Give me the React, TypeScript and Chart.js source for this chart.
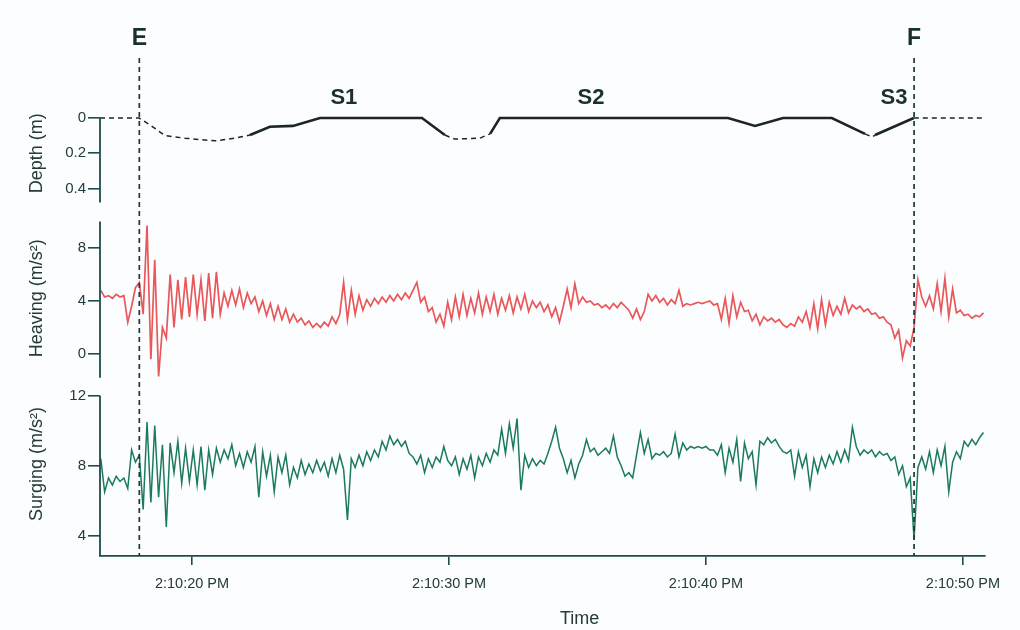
import React, { useEffect, useRef } from "react";
import { Chart, registerables } from "chart.js";

Chart.register(...registerables);

// Sampling of the accelerometer traces (seconds after 2:10:00 PM)
const T0 = 16.45;
const DT = 0.15;

// Heaving acceleration (m/s²)
const heaving = [
  4.8, 4.3, 4.4, 4.2, 4.5, 4.3, 4.4, 2.4, 3.6, 5.0,
  5.4, 3.0, 9.7, -0.4, 7.1, -1.7, 2.0, 1.2, 6.0, 2.0,
  5.6, 2.6, 5.8, 2.8, 6.0, 3.0, 5.6, 2.5, 6.1, 2.7,
  6.2, 3.0, 4.6, 3.6, 4.8, 3.7, 4.9, 3.5, 4.6, 3.8,
  4.3, 3.2, 4.0, 2.9, 3.8, 2.6, 3.6, 2.6, 3.4, 2.4,
  3.0, 2.4, 2.7, 2.2, 2.5, 2.0, 2.3, 2.0, 2.4, 2.1,
  2.8, 2.3, 3.0, 5.4, 2.6, 4.8, 3.0, 4.4, 3.3, 4.1,
  3.6, 4.2, 3.8, 4.3, 3.9, 4.4, 4.0, 4.5, 4.1, 4.6,
  4.2, 4.8, 5.4, 3.9, 4.3, 3.2, 3.5, 2.4, 3.0, 2.1,
  3.9, 2.6, 4.3, 2.8, 4.5, 2.9, 4.2, 3.1, 4.6, 3.0,
  4.3, 3.2, 4.5, 3.0, 4.2, 3.3, 4.4, 3.1, 4.3, 3.4,
  4.5, 3.2, 4.0, 3.5, 3.9, 3.2, 3.7, 2.8, 3.5, 2.4,
  3.6, 4.9, 3.5, 5.3, 3.8, 4.3, 3.9, 4.0, 3.7, 3.8,
  3.5, 3.7, 3.4, 3.8, 3.5, 3.9, 3.6, 3.3, 2.7, 3.4,
  2.6, 3.2, 4.5, 4.0, 4.4, 3.9, 4.2, 3.7, 4.1, 3.8,
  4.8, 3.6, 3.8, 3.7, 3.8, 3.9, 3.8, 3.9, 4.0, 3.7,
  3.8, 2.6, 4.2, 2.3, 4.4, 2.8, 3.9, 3.2, 3.3, 2.5,
  3.0, 2.2, 2.8, 2.5, 2.7, 2.4, 2.6, 2.2, 2.0, 2.3,
  2.1, 2.8, 2.4, 3.2, 2.0, 3.8, 1.9, 4.1, 2.2, 3.9,
  2.9, 3.6, 3.0, 4.2, 3.1, 3.7, 3.4, 3.6, 3.2, 3.4,
  3.0, 3.1, 2.7, 2.8, 2.4, 2.2, 1.2, 1.8, -0.3, 1.0,
  0.6, 2.0, 5.6, 4.3, 3.6, 4.4, 3.4, 5.3, 3.2, 5.7,
  2.8, 4.9, 3.1, 3.3, 2.9, 3.0, 2.7, 2.9, 2.8, 3.1,
];

// Surging acceleration (m/s²)
const surging = [
  8.4, 6.5, 7.3, 6.9, 7.4, 7.1, 7.3, 6.7, 8.9, 8.2,
  8.6, 5.5, 10.5, 5.9, 10.3, 6.2, 9.2, 4.5, 9.3, 7.6,
  9.4, 7.0, 9.0, 7.1, 8.9, 6.9, 9.1, 6.6, 8.9, 7.5,
  9.0, 8.2, 8.9, 8.4, 9.2, 8.0, 8.7, 7.9, 8.8, 8.2,
  9.1, 6.2, 8.8, 7.4, 8.6, 6.5, 8.5, 7.6, 8.6, 6.9,
  7.9, 7.3, 8.3, 7.5, 8.1, 7.6, 8.3, 7.7, 8.2, 7.4,
  8.4, 7.6, 8.6, 7.8, 4.9, 8.4, 7.9, 8.6, 8.0, 8.8,
  8.3, 8.9, 8.5, 9.4, 8.9, 9.7, 9.2, 9.5, 9.1, 9.4,
  8.7, 8.5, 8.1, 8.6, 7.6, 8.4, 7.9, 8.5, 8.2, 9.1,
  8.3, 8.0, 8.5, 7.5, 8.4, 7.8, 8.6, 7.3, 8.5, 8.0,
  8.7, 8.2, 8.9, 8.6, 10.1, 8.7, 10.4, 9.0, 10.7, 6.6,
  8.6, 7.9, 8.4, 8.0, 8.3, 8.1, 8.7, 9.4, 10.2, 9.0,
  8.4, 7.6, 8.3, 7.3, 8.1, 8.6, 9.5, 8.8, 9.0, 8.6,
  8.8, 9.0, 8.7, 9.7, 8.5, 8.0, 7.4, 7.6, 7.3, 8.6,
  9.9, 8.7, 9.5, 8.4, 8.7, 8.6, 8.8, 8.5, 8.7, 9.8,
  8.5, 9.3, 8.9, 9.1, 9.0, 9.1, 9.0, 9.1, 8.9, 8.9,
  8.6, 9.2, 7.6, 9.0, 8.2, 9.5, 7.1, 9.3, 8.4, 8.8,
  6.9, 9.4, 9.2, 9.6, 9.3, 9.5, 9.1, 8.8, 8.7, 8.9,
  7.4, 8.8, 7.9, 8.6, 6.8, 8.4, 7.6, 8.5, 7.9, 8.6,
  8.1, 8.8, 8.2, 8.9, 8.3, 10.2, 9.1, 8.6, 8.9, 8.7,
  8.9, 8.5, 8.8, 8.6, 8.7, 8.3, 8.5, 7.5, 8.0, 6.8,
  7.3, 3.8, 7.9, 8.5, 7.8, 8.8, 7.6, 8.9, 8.0, 9.1,
  6.5, 8.2, 8.8, 8.4, 9.4, 9.1, 9.5, 9.2, 9.6, 9.9,
];

// Depth profile (m)
const depthTimes = [
  16.42, 17.94, 18.37, 18.95, 19.73, 20.9, 21.67, 22.26, 23.03, 23.93,
  24.98, 28.95, 29.84, 30.23, 31.2, 31.6, 31.98, 40.86, 41.91, 43.0,
  44.9, 46.19, 46.46, 46.58, 48.09, 50.86,
];
const depthValues = [
  0, 0, 0.04, 0.1, 0.115, 0.13, 0.115, 0.097, 0.05, 0.045,
  0, 0, 0.097, 0.12, 0.115, 0.09, 0, 0, 0.045, 0,
  0, 0.09, 0.108, 0.097, 0, 0,
];
// true = solid (swimming stroke), false = dashed, for segment i -> i+1
const depthSegmentSolid = [
  false, false, false, false, false, false, false, true, true, true,
  true, true, false, false, false, true, true, true, true, true,
  true, false, false, true, false,
];

// Events and strokes
const eventTimes = [17.95, 48.1];
const eventLabels = ["E", "F"];
const strokeTimes = [25.91, 35.53, 47.32];
const strokeLabels = ["S1", "S2", "S3"];

// Axes
const xMin = 16.42;
const xMax = 50.86;
const xTickValues = [20, 30, 40, 50];
const xTickLabels = ["2:10:20 PM", "2:10:30 PM", "2:10:40 PM", "2:10:50 PM"];
const depthTicks = [0, 0.2, 0.4];
const heavingTicks = [0, 4, 8];
const surgingTicks = [4, 8, 12];

const AXIS = "#1f4b4d";
const TEXT = "#243a3b";
const FONT = "'Liberation Sans', Arial, sans-serif";

export default function App() {
  const ref = useRef<HTMLCanvasElement | null>(null);

  useEffect(() => {
    if (!ref.current) return;

    const heavingPts = heaving.map((v, i) => ({ x: T0 + i * DT, y: v }));
    const surgingPts = surging.map((v, i) => ({ x: T0 + i * DT, y: v }));
    const depthPts = depthTimes.map((t, i) => ({ x: t, y: depthValues[i] }));

    const fixedTicks = (vals: number[]) => (scale: any) => {
      scale.ticks = vals.map((v) => ({ value: v }));
    };

    const yCommon = (ticks: number[]) => ({
      type: "linear" as const,
      position: "left" as const,
      stack: "panels",
      afterBuildTicks: fixedTicks(ticks),
      afterFit: (s: any) => {
        s.width = 100;
      },
      border: { display: false },
      grid: {
        drawOnChartArea: false,
        drawTicks: true,
        tickLength: 12,
        color: AXIS,
        lineWidth: 1.6,
      },
      ticks: {
        padding: 2,
        color: TEXT,
        font: { family: FONT, size: 15 },
        callback: (v: any) => String(v),
      },
    });

    const overlay = {
      id: "overlay",
      beforeDraw(chart: any) {
        const c = chart.ctx;
        c.save();
        c.fillStyle = "#fcfdfe";
        c.fillRect(0, 0, chart.width, chart.height);
        c.restore();
      },
      afterDatasetsDraw(chart: any) {
        const c = chart.ctx;
        const { chartArea, scales } = chart;
        const x = scales.x;
        const yD = scales.yD;
        const yH = scales.yH;
        const yS = scales.yS;
        c.save();

        // y axis lines with gaps between panels
        c.strokeStyle = AXIS;
        c.lineWidth = 1.8;
        const L = chartArea.left;
        const segs: [any, number, number][] = [
          [yD, 0, 0.48],
          [yH, 10, -1.8],
          [yS, 12, yS.min],
        ];
        segs.forEach(([s, a, b]) => {
          c.beginPath();
          c.moveTo(L, s.getPixelForValue(a));
          c.lineTo(L, s.getPixelForValue(b));
          c.stroke();
        });

        // event lines
        c.strokeStyle = "#1d3636";
        c.lineWidth = 1.7;
        c.setLineDash([5, 4]);
        eventTimes.forEach((t) => {
          const px = x.getPixelForValue(t);
          c.beginPath();
          c.moveTo(px, chartArea.top);
          c.lineTo(px, chartArea.bottom);
          c.stroke();
        });
        c.setLineDash([]);

        c.fillStyle = "#1a3030";
        c.textAlign = "center";
        c.textBaseline = "middle";
        c.font = `bold 23px ${FONT}`;
        eventTimes.forEach((t, i) => {
          const px = x.getPixelForValue(t);
          c.fillText(eventLabels[i], px, chartArea.top - 19);
        });

        c.font = `bold 22px ${FONT}`;
        const y0 = yD.getPixelForValue(0);
        strokeTimes.forEach((t, i) => {
          c.fillText(strokeLabels[i], x.getPixelForValue(t), y0 - 20);
        });

        // y titles
        c.fillStyle = TEXT;
        c.font = `18px ${FONT}`;
        const titles: [any, number, string][] = [
          [yD, 0.2, "Depth (m)"],
          [yH, 4.2, "Heaving (m/s²)"],
          [yS, 8.1, "Surging (m/s²)"],
        ];
        titles.forEach(([s, v, txt]) => {
          c.save();
          c.translate(37, s.getPixelForValue(v));
          c.rotate(-Math.PI / 2);
          c.fillText(txt, 0, 0);
          c.restore();
        });

        // x title
        c.font = `18px ${FONT}`;
        c.fillText("Time", chartArea.left + chartArea.width * 0.542, 619);

        c.restore();
      },
    };

    const chart = new Chart(ref.current, {
      type: "line",
      data: {
        datasets: [
          {
            label: "Depth",
            data: depthPts,
            yAxisID: "yD",
            borderColor: "#1a2626",
            borderWidth: 2.4,
            pointRadius: 0,
            tension: 0,
            segment: {
              borderDash: (ctx: any) =>
                depthSegmentSolid[ctx.p0DataIndex] ? [] : [5, 4],
              borderWidth: (ctx: any) =>
                depthSegmentSolid[ctx.p0DataIndex] ? 2.6 : 1.5,
            },
          },
          {
            label: "Heaving",
            data: heavingPts,
            yAxisID: "yH",
            borderColor: "#e8585a",
            borderWidth: 1.7,
            pointRadius: 0,
            tension: 0,
          },
          {
            label: "Surging",
            data: surgingPts,
            yAxisID: "yS",
            borderColor: "#1b7a5e",
            borderWidth: 1.5,
            pointRadius: 0,
            tension: 0,
          },
        ],
      },
      options: {
        animation: false,
        responsive: false,
        parsing: true,
        layout: { padding: { top: 58, right: 35, left: 0, bottom: 0 } },
        plugins: {
          legend: { display: false },
          tooltip: { enabled: false },
        },
        scales: {
          x: {
            type: "linear",
            position: "bottom",
            min: xMin,
            max: xMax,
            afterBuildTicks: fixedTicks(xTickValues),
            afterFit: (s: any) => {
              s.height = 74;
            },
            border: { display: true, color: AXIS, width: 1.8 },
            grid: {
              drawOnChartArea: false,
              drawTicks: true,
              tickLength: 9,
              color: AXIS,
              lineWidth: 1.6,
            },
            ticks: {
              padding: 10,
              maxRotation: 0,
              color: TEXT,
              font: { family: FONT, size: 14.5 },
              callback: (v: any) => {
                const k = xTickValues.indexOf(Number(v));
                return k >= 0 ? xTickLabels[k] : "";
              },
            },
          },
          yD: {
            ...yCommon(depthTicks),
            weight: 3,
            stackWeight: 155,
            min: -0.341,
            max: 0.54,
            reverse: true,
          },
          yH: {
            ...yCommon(heavingTicks),
            weight: 2,
            stackWeight: 175,
            min: -2.57,
            max: 10.64,
          },
          yS: {
            ...yCommon(surgingTicks),
            weight: 1,
            stackWeight: 168,
            min: 2.84,
            max: 12.44,
          },
        },
      },
      plugins: [overlay],
    } as any);

    return () => chart.destroy();
  }, []);

  return (
    <div style={{ position: "absolute", left: 0, top: 0, width: 1020, height: 630 }}>
      <canvas ref={ref} width={1020} height={630} style={{ width: 1020, height: 630, display: "block" }} />
    </div>
  );
}
